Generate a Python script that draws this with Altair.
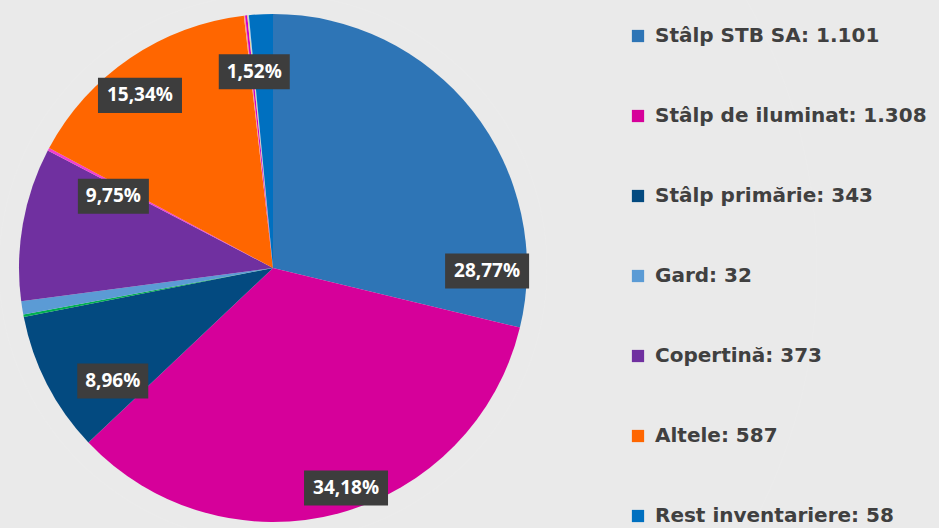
import math
import altair as alt
import pandas as pd

# ---- data (clockwise from 12 o'clock) ----
names = ["Stâlp STB SA", "Stâlp de iluminat", "Stâlp primărie", "Categorie mică 1",
         "Gard", "Copertină", "Categorie mică 2", "Altele", "Categorie mică 3",
         "Categorie mică 4", "Categorie mică 5", "Categorie mică 6", "Rest inventariere"]
counts = [1101, 1308, 343, 6, 32, 373, 7, 587, 3, 5, 2, 2, 58]
legend_names = ["Stâlp STB SA", "Stâlp de iluminat", "Stâlp primărie", "Gard",
                "Copertină", "Altele", "Rest inventariere"]
labelled = ["Stâlp STB SA", "Stâlp de iluminat", "Stâlp primărie", "Copertină",
            "Altele", "Rest inventariere"]

# ---- styles / layout ----
colors = ["#2E75B6", "#D6009A", "#034A80", "#00B050", "#5B9BD5", "#7030A0",
          "#F040D0", "#FF6600", "#FF9C8C", "#CC00CC", "#F5D76E", "#A9D0F5", "#0070C0"]
# where along each slice (fraction of its angle) and how far out (fraction of radius) the label sits
label_anchor = {"Stâlp STB SA": 0.877, "Stâlp de iluminat": 0.472, "Stâlp primărie": 0.254,
                "Copertină": 0.905, "Altele": 0.438, "Rest inventariere": 0.0}
label_radius = {"Stâlp STB SA": 0.843, "Stâlp de iluminat": 0.913, "Stâlp primărie": 0.772,
                "Copertină": 0.689, "Altele": 0.858, "Rest inventariere": 0.776}
CX, CY, R = 273, 268, 254


def fmt_int(v):
    return f"{v:,}".replace(",", ".")


total = sum(counts)
legend_labels = [f"{n}: {fmt_int(c)}" if n in legend_names else n for n, c in zip(names, counts)]
legend_values = [l for n, l in zip(names, legend_labels) if n in legend_names]

df = pd.DataFrame({"idx": range(len(names)), "name": names, "value": counts,
                   "legend_label": legend_labels})

rows = []
cum = 0
for n, c in zip(names, counts):
    if n in labelled:
        a = 2 * math.pi * (cum + label_anchor[n] * c) / total
        rf = label_radius[n]
        pct = f"{c / total * 100:.2f}".replace(".", ",")
        rows.append({"name": n, "pct": pct + "%", "lx": math.sin(a) * rf, "ly": math.cos(a) * rf})
    cum += c
lab = pd.DataFrame(rows)

# soft halo around the pie
shadow = pd.DataFrame({"r": [274, 270, 266, 263, 260, 258, 256.5]})

shadow_layer = alt.Chart(shadow).mark_arc(color="#000000", opacity=0.022).encode(
    x=alt.value(CX), y=alt.value(CY),
    theta=alt.value(0), theta2=alt.value(2 * math.pi),
    radius=alt.Radius("r:Q", scale=None),
)

pie = alt.Chart(df).mark_arc(strokeWidth=0).encode(
    x=alt.value(CX), y=alt.value(CY),
    theta=alt.Theta("value:Q", stack=True),
    order=alt.Order("idx:Q"),
    radius=alt.value(R),
    color=alt.Color("legend_label:N",
                    scale=alt.Scale(domain=legend_labels, range=colors),
                    legend=alt.Legend(values=legend_values, title=None)),
)

xs = alt.X("lx:Q", scale=alt.Scale(domain=[-1, 1], range=[CX - R, CX + R]), axis=None)
ys = alt.Y("ly:Q", scale=alt.Scale(domain=[-1, 1], range=[CY + R, CY - R]), axis=None)

boxes = alt.Chart(lab).transform_calculate(
    bw="length(datum.pct) * 13 + 6",
).transform_calculate(
    hh="format(17.5 / (datum.bw / 2), '.4f')",
).transform_calculate(
    shp="'M-1,-' + datum.hh + 'H1V' + datum.hh + 'H-1Z'",
    sz="datum.bw * datum.bw",
).mark_point(filled=True, opacity=1, color="#3D3D3D", strokeWidth=0).encode(
    x=xs, y=ys,
    shape=alt.Shape("shp:N", scale=None),
    size=alt.Size("sz:Q", scale=None),
)

texts = alt.Chart(lab).mark_text(
    font="Open Sans", fontSize=19, fontWeight="bold", color="white",
    align="center", baseline="middle",
).encode(x=xs, y=ys, text="pct:N")

chart = alt.layer(shadow_layer, pie, boxes, texts).properties(
    width=939, height=528, background="#F0F0F0", padding=0, autosize="none",
).configure_view(stroke=None).configure_legend(
    orient="none", legendX=628, legendY=26,
    symbolType="square", symbolSize=150, symbolStrokeWidth=0,
    labelFont="DejaVu Sans", labelFontSize=20, labelFontWeight="bold",
    labelColor="#404040", labelLimit=500, labelOffset=7, rowPadding=60,
)

chart.save("out.html", embed_options={"renderer": "svg", "actions": False})
